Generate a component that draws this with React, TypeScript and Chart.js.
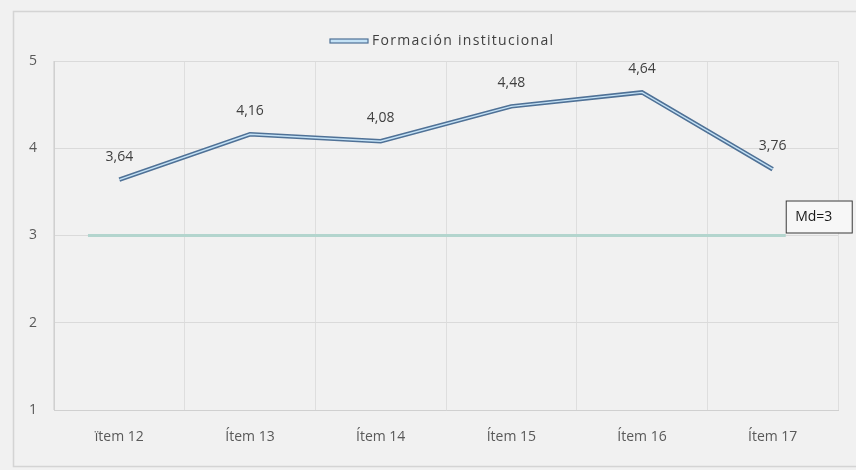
import React, { useEffect, useRef } from "react";
import { Chart, registerables } from "chart.js";

Chart.register(...registerables);

const categories = ["ïtem 12", "Ítem 13", "Ítem 14", "Ítem 15", "Ítem 16", "Ítem 17"];
const seriesName = "Formación institucional";
const values = [3.64, 4.16, 4.08, 4.48, 4.64, 3.76];
const yTicks = [1, 2, 3, 4, 5];
const medianValue = 3;
const medianLabel = "Md=3";

const FONT = "'Open Sans', sans-serif";

export default function App() {
  const ref = useRef<HTMLCanvasElement | null>(null);
  useEffect(() => {
    document.body.style.margin = "0";
    const canvas = ref.current!;
    const framePlugin = {
      id: "frame",
      beforeDraw(chart: any) {
        const ctx = chart.ctx;
        ctx.save();
        ctx.fillStyle = "#f1f1f1";
        ctx.fillRect(0, 0, chart.width, chart.height);
        ctx.strokeStyle = "#d4d4d4";
        ctx.lineWidth = 1.5;
        ctx.strokeRect(13.5, 11.5, chart.width + 20, chart.height - 15);
        // legend (drawn manually for the double-line swatch)
        const lx = 330;
        const ly = 41;
        ctx.fillStyle = "#c4e2f6";
        ctx.fillRect(lx, ly - 2, 38, 4);
        ctx.strokeStyle = "#4f7196";
        ctx.lineWidth = 1.2;
        ctx.strokeRect(lx, ly - 2, 38, 4);
        ctx.fillStyle = "#404040";
        ctx.font = `14px ${FONT}`;
        (ctx as any).letterSpacing = "1.3px";
        ctx.textAlign = "left";
        ctx.textBaseline = "middle";
        ctx.fillText(seriesName, lx + 42, ly);
        ctx.restore();
      },
    };
    const overlayPlugin = {
      id: "overlay",
      beforeDatasetsDraw(chart: any) {
        const ctx = chart.ctx;
        const x = chart.scales.x;
        const y = chart.scales.y;
        const yy = y.getPixelForValue(medianValue);
        const x0 = x.getPixelForValue(-0.24);
        const x1 = x.getPixelForValue(5.1);
        ctx.save();
        ctx.strokeStyle = "#b3d5ce";
        ctx.lineWidth = 3;
        ctx.beginPath();
        ctx.moveTo(x0, yy);
        ctx.lineTo(x1, yy);
        ctx.stroke();
        ctx.restore();
      },
      afterDatasetsDraw(chart: any) {
        const ctx = chart.ctx;
        const meta = chart.getDatasetMeta(0);
        ctx.save();
        ctx.strokeStyle = "#c4e2f6";
        ctx.lineWidth = 1.4;
        ctx.beginPath();
        meta.data.forEach((p: any, i: number) => {
          if (i === 0) ctx.moveTo(p.x, p.y);
          else ctx.lineTo(p.x, p.y);
        });
        ctx.stroke();
        // data labels
        ctx.fillStyle = "#404040";
        ctx.font = `14px ${FONT}`;
        ctx.textAlign = "center";
        ctx.textBaseline = "middle";
        meta.data.forEach((p: any, i: number) => {
          ctx.fillText(values[i].toFixed(2).replace(".", ","), p.x, p.y - 23);
        });
        // median box
        const x = chart.scales.x;
        const y = chart.scales.y;
        const yy = y.getPixelForValue(medianValue);
        const bx = x.getPixelForValue(5.1);
        const by = yy - 35;
        const bw = 66;
        const bh = 32;
        ctx.fillStyle = "#f7f7f7";
        ctx.fillRect(bx, by, bw, bh);
        ctx.strokeStyle = "#3a3a3a";
        ctx.lineWidth = 1;
        ctx.strokeRect(bx + 0.5, by + 0.5, bw, bh);
        ctx.fillStyle = "#1a1a1a";
        ctx.font = `14px ${FONT}`;
        ctx.fillText(medianLabel, bx + 28, by + bh / 2 + 1);
        ctx.restore();
      },
    };
    const chart = new Chart(canvas, {
      type: "line",
      data: {
        labels: categories,
        datasets: [
          {
            label: seriesName,
            data: values,
            borderColor: "#4f7196",
            backgroundColor: "#c4e2f6",
            borderWidth: 4.5,
            pointRadius: 0,
            tension: 0,
            fill: false,
          },
        ],
      },
      options: {
        animation: false,
        responsive: false,
        maintainAspectRatio: false,
        layout: { padding: { top: 61, right: 18, left: 0, bottom: 0 } },
        plugins: {
          tooltip: { enabled: false },
          legend: { display: false },
        },
        scales: {
          x: {
            offset: true,
            grid: { display: true, offset: true, color: "#dedede", drawTicks: false },
            border: { display: true, color: "#d0d0d0" },
            ticks: { color: "#595959", font: { family: FONT, size: 14 }, padding: 19, maxRotation: 0 },
            afterFit: (s: any) => {
              s.height = 60;
            },
          },
          y: {
            min: 1,
            max: 5,
            afterBuildTicks: (s: any) => {
              s.ticks = yTicks.map((v) => ({ value: v }));
            },
            grid: { color: "#dadada", drawTicks: false },
            border: { display: true, color: "#d0d0d0" },
            ticks: { color: "#595959", font: { family: FONT, size: 14 }, padding: 17 },
            afterFit: (s: any) => {
              s.width = 54;
            },
          },
        },
      },
      plugins: [framePlugin, overlayPlugin],
    } as any);
    return () => chart.destroy();
  }, []);
  return (
    <div style={{ width: 856, height: 470, background: "#f1f1f1" }}>
      <canvas ref={ref} width={856} height={470} style={{ display: "block" }} />
    </div>
  );
}
